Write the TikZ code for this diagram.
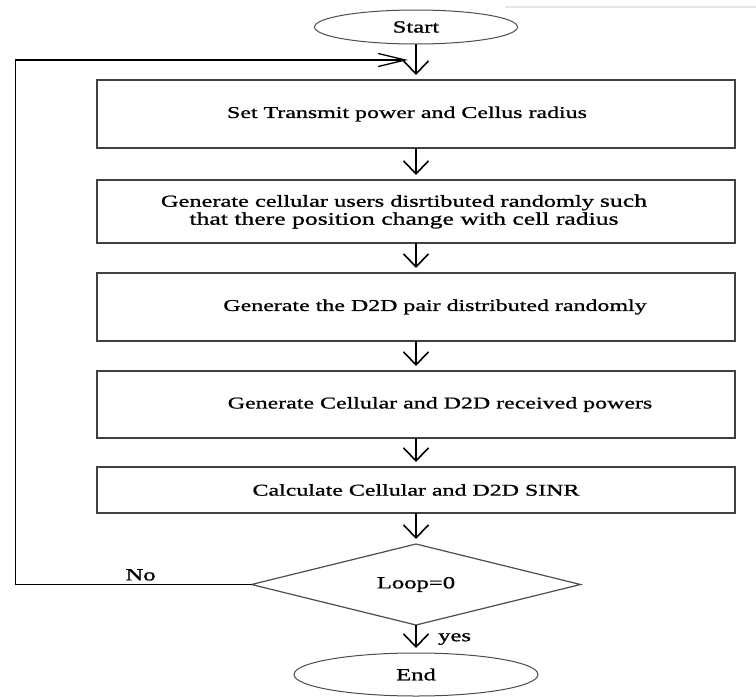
\documentclass[tikz,border=0pt]{standalone}
\usepackage{fontspec}
\setmainfont[FakeStretch=1.45, FakeBold=1]{Liberation Serif}
\usetikzlibrary{positioning,shapes.geometric,arrows.meta}

\begin{document}
\begin{tikzpicture}[x=1pt, y=1pt,
      b/.style={rectangle, draw=black!75, line width=1.8pt, minimum width=638pt, outer sep=0pt,
        align=center, font=\fontsize{16.5}{19}\selectfont},
      t/.style={ellipse, draw=black!70, line width=1pt, outer sep=0pt, font=\fontsize{17}{19}\selectfont},
      d/.style={diamond, aspect=4, draw=black!70, line width=1.2pt, minimum width=329pt, outer sep=0pt,
        minimum height=81pt, inner sep=0pt, font=\fontsize{17}{19}\selectfont},
      a/.style={-{Straight Barb[length=13pt, width=25pt]}, line width=1.6pt, shorten >=5pt},
      lbl/.style={font=\fontsize{17}{19}\selectfont}]
      \useasboundingbox (0,0) rectangle (756,-697);
      \draw[gray!20, line width=2pt] (505,-7) -- (756,-7);
      \node[t, minimum width=203pt, minimum height=34pt] (start) at (416,-27) {Start};
      \node[b, minimum height=68pt, below=36pt of start] (set) {Set Transmit power and Cellus radius\hspace*{18pt}};
      \node[b, minimum height=63pt, below=32pt of set] (users) {\fontsize{16.8}{19}\selectfont Generate cellular users disrtibuted randomly {\fontsize{17.7}{19}\selectfont such}\hspace*{24pt}\\[-1pt]
        \fontsize{17.7}{19}\selectfont that there position change with cell radius\hspace*{24pt}};
      \node[b, minimum height=68pt, below=30pt of users] (pair) {\hspace*{38pt}Generate the D2D pair distributed randomly};
      \node[b, minimum height=67pt, below=30pt of pair] (power) {\hspace*{48pt}Generate Cellular and D2D received powers};
      \node[b, minimum height=46pt, below=29pt of power] (sinr) {Calculate Cellular and D2D SINR};
      \node[d, below=31pt of sinr] (dec) {Loop=0};
      \node[t, minimum width=244pt, minimum height=43pt, below=28pt of dec] (end) {End};
      \coordinate[below=16pt of start] (join);
      \draw[a] (start) -- (set);
      \draw[a] (set) -- (users);
      \draw[a] (users) -- (pair);
      \draw[a] (pair) -- (power);
      \draw[a] (power) -- (sinr);
      \draw[a] (sinr) -- (dec);
      \draw[a] (dec) -- node[lbl, right, xshift=18pt] {yes} (end);
      \draw[-{Straight Barb[length=27pt, width=13pt]}, line width=1.3pt, shorten >=8pt]
        (dec.west) -- node[lbl, above, pos=0.47] {No} ++(-236,0) |- (join);
    \end{tikzpicture}
\end{document}
